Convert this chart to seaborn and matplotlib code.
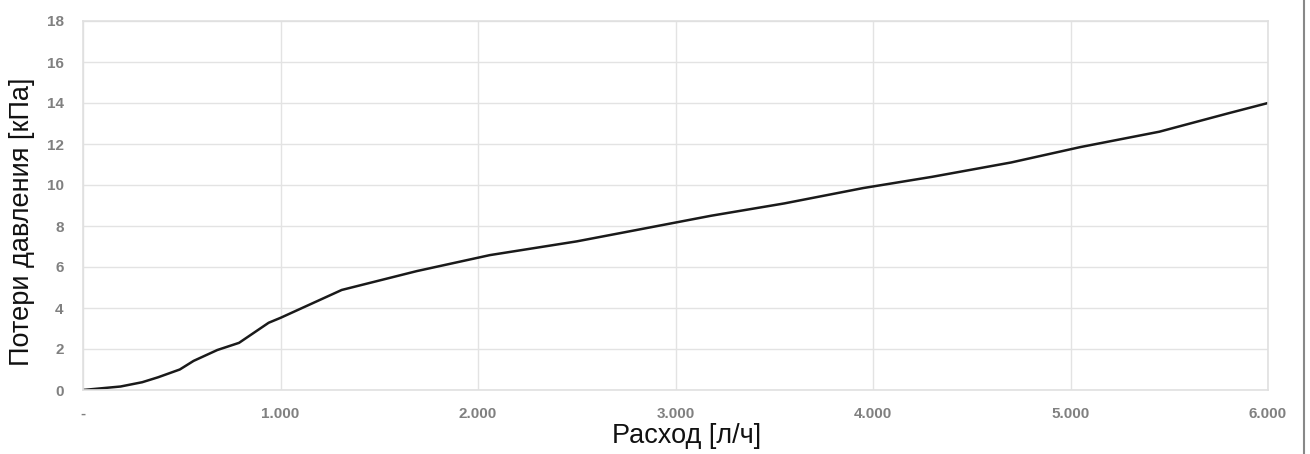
import matplotlib
matplotlib.use("Agg")
import matplotlib.pyplot as plt
import seaborn as sns
import pandas as pd
from matplotlib.lines import Line2D

flow = [0, 190, 300, 380, 490, 560, 680, 790, 940, 1000, 1310, 1690, 2060, 2500, 2800, 3180, 3550, 3950, 4300, 4700, 5050, 5450, 5800, 6000]
loss = [0, 0.17, 0.38, 0.62, 1.0, 1.42, 1.95, 2.3, 3.28, 3.52, 4.88, 5.8, 6.58, 7.25, 7.8, 8.5, 9.1, 9.85, 10.4, 11.1, 11.85, 12.6, 13.5, 14.0]
xticks = [0, 1000, 2000, 3000, 4000, 5000, 6000]
xticklabels = ["-", "1.000", "2.000", "3.000", "4.000", "5.000", "6.000"]
yticks = [0, 2, 4, 6, 8, 10, 12, 14, 16, 18]

sns.set_theme(style="whitegrid")
plt.rcParams['font.family'] = ['Liberation Sans', 'DejaVu Sans']

df = pd.DataFrame({"flow": flow, "loss": loss})
fig = plt.figure(figsize=(13.1, 4.54), dpi=100)
ax = fig.add_axes([83/1310, 64/454, (1268-83)/1310, (390-21)/454])
sns.lineplot(data=df, x="flow", y="loss", ax=ax, color="#1a1a1a", linewidth=1.8)

ax.set_xlim(0, 6000)
ax.set_ylim(0, 18)
ax.set_xticks(xticks)
ax.set_xticklabels(xticklabels)
ax.set_yticks(yticks)
ax.grid(True, color="#e3e3e3", linewidth=1)
for s in ax.spines.values():
    s.set_color("#e0e0e0")
    s.set_linewidth(1.2)
ax.tick_params(axis="both", length=0, labelsize=11, labelcolor="#808080")
for lab in ax.get_xticklabels() + ax.get_yticklabels():
    lab.set_fontweight("bold")
ax.tick_params(axis="x", pad=12)
ax.tick_params(axis="y", pad=14)
ax.set_xlabel("Расход [л/ч]", fontsize=19.5, color="#111111")
ax.set_ylabel("Потери давления [кПа]", fontsize=19.5, color="#111111")
ax.xaxis.set_label_coords(0.509, -0.09)
ax.yaxis.set_label_coords(-0.0405, 0.455)

fig.add_artist(Line2D([1304/1310, 1304/1310], [0, 1], transform=fig.transFigure, color="#888888", linewidth=1.5))

fig.savefig("out.png", dpi=100)
